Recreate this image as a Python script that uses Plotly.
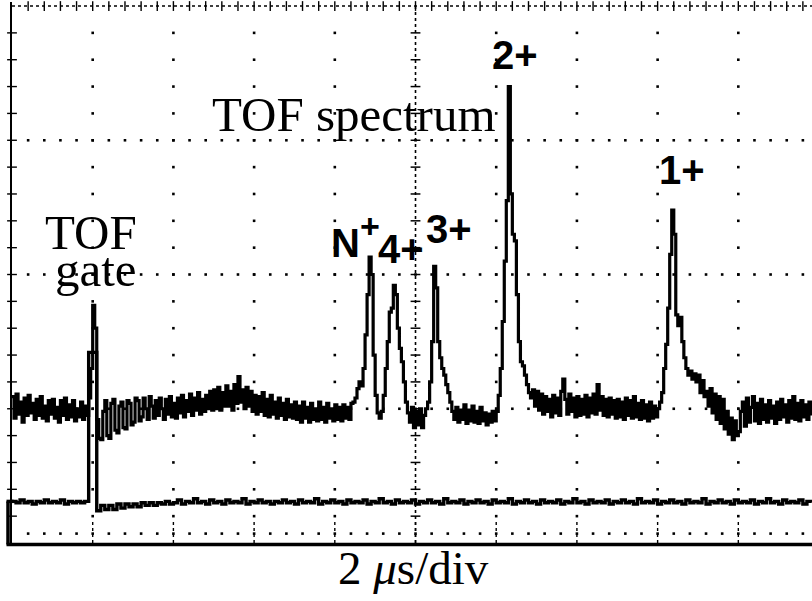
import numpy as np
import plotly.graph_objects as go

# ---------------- data ----------------
SPECTRUM_STEP_US = 0.05       # sampling interval of the spectrum trace (µs)
GATE_STEP_US = 0.1            # sampling interval of the gate trace (µs)

# upper channel: TOF spectrum (vertical position in screen divisions), 1 µs per row
spectrum_div = [
    1.09, 0.93, 1.11, 0.96, 1.05, 0.90, 1.08, 0.95, 1.10, 0.97, 1.04, 0.92, 1.07, 0.95, 1.09, 0.93, 1.02, 0.91, 1.06, 0.96,
    1.07, 0.93, 1.01, 0.90, 1.06, 0.95, 1.08, 0.92, 1.03, 0.94, 1.06, 0.91, 1.00, 0.94, 1.05, 0.92, 1.02, 0.95, 1.08, 1.30,
    1.77, 1.60, 0.92, 0.78, 0.77, 0.98, 1.06, 0.80, 0.78, 1.04, 1.07, 0.84, 0.82, 1.02, 1.05, 0.86, 0.85, 1.06, 1.04, 0.88,
    0.90, 1.08, 1.06, 0.91, 0.94, 1.08, 1.00, 0.92, 1.09, 1.02, 0.93, 1.06, 0.95, 1.08, 1.00, 0.92, 1.07, 0.96, 1.09, 0.94,
    1.04, 0.93, 1.08, 0.97, 1.10, 0.94, 1.06, 0.98, 1.11, 0.95, 1.08, 0.99, 1.12, 0.96, 1.07, 0.98, 1.10, 1.00, 1.13, 0.99,
    1.14, 1.00, 1.16, 0.99, 1.12, 1.02, 1.17, 1.02, 1.13, 0.99, 1.18, 1.04, 1.24, 1.05, 1.14, 1.00, 1.16, 1.02, 1.13, 0.98,
    1.10, 0.96, 1.09, 0.98, 1.12, 0.95, 1.07, 0.94, 1.10, 0.96, 1.05, 0.93, 1.08, 0.95, 1.04, 0.92, 1.07, 0.94, 1.03, 0.93,
    1.05, 0.92, 1.02, 0.90, 1.05, 0.93, 1.01, 0.90, 1.04, 0.92, 1.00, 0.91, 1.05, 0.92, 1.01, 0.90, 1.04, 0.93, 1.00, 0.91,
    1.03, 0.92, 1.01, 0.91, 1.03, 0.93, 1.01, 0.92, 1.04, 1.05, 1.08, 1.15, 1.20, 1.17, 1.30, 1.55, 1.85, 2.13, 2.00, 1.40,
    1.10, 0.97, 0.93, 0.98, 1.10, 1.30, 1.50, 1.72, 1.75, 1.92, 1.85, 1.60, 1.45, 1.35, 1.20, 1.05, 0.97, 0.90, 1.01, 0.86,
    0.98, 0.88, 1.00, 0.86, 0.95, 1.00, 1.05, 1.20, 1.50, 2.06, 1.90, 1.50, 1.38, 1.30, 1.25, 1.18, 1.12, 1.05, 0.98, 0.92,
    1.01, 0.90, 0.99, 0.92, 1.03, 0.89, 0.99, 0.91, 1.02, 0.90, 0.98, 0.89, 1.01, 0.91, 0.97, 0.88, 0.96, 0.90, 0.98, 0.91,
    0.98, 1.10, 1.30, 1.65, 2.10, 2.55, 3.40, 2.60, 2.30, 2.25, 1.85, 1.50, 1.35, 1.32, 1.25, 1.18, 1.12, 1.08, 1.14, 1.02,
    1.13, 0.99, 1.11, 0.96, 1.09, 0.98, 1.07, 0.94, 1.10, 0.97, 1.08, 0.95, 1.13, 1.22, 1.07, 0.96, 1.11, 0.98, 1.08, 0.94,
    1.09, 0.95, 1.07, 0.96, 1.10, 0.94, 1.08, 0.97, 1.11, 0.96, 1.18, 0.99, 1.09, 0.95, 1.07, 0.94, 1.08, 0.96, 1.06, 0.93,
    1.07, 0.94, 1.05, 0.92, 1.08, 0.95, 1.06, 0.93, 1.09, 0.94, 1.04, 0.92, 1.06, 0.93, 1.03, 0.91, 1.05, 0.93, 1.02, 0.94,
    1.00, 1.05, 1.12, 1.30, 1.48, 1.75, 2.15, 2.48, 2.30, 1.70, 1.62, 1.68, 1.50, 1.38, 1.30, 1.25, 1.28, 1.22, 1.26, 1.20,
    1.25, 1.12, 1.21, 1.09, 1.13, 1.02, 1.15, 0.97, 1.11, 0.92, 1.09, 0.89, 1.07, 0.85, 0.98, 0.81, 0.93, 0.77, 0.91, 0.80,
    0.83, 0.98, 1.05, 0.87, 1.08, 0.90, 1.01, 1.09, 0.91, 1.04, 0.89, 1.07, 0.92, 1.03, 0.90, 1.06, 0.93, 1.02, 0.89, 1.05,
    0.92, 1.07, 0.94, 1.03, 0.90, 1.06, 0.93, 1.09, 0.92, 1.04, 0.91, 1.06, 0.94, 1.03, 0.92, 1.05, 0.95,
]

# lower channel: TOF gate pulse
gate_div = [
    0.31, 0.30, 0.32, 0.30, 0.31, 0.29, 0.31, 0.30, 0.32, 0.30,
    0.31, 0.30, 0.32, 0.29, 0.31, 0.30, 0.31, 0.30, 0.31,
    1.42, 1.42,
    0.24, 0.28, 0.25, 0.28, 0.25, 0.29, 0.26, 0.29, 0.27, 0.29,
    0.27, 0.30, 0.28, 0.30, 0.28, 0.30, 0.29, 0.31, 0.29,
    0.30, 0.32, 0.29, 0.31, 0.30, 0.33, 0.30, 0.31, 0.29, 0.32,
    0.30, 0.31, 0.29, 0.32, 0.30, 0.31, 0.30, 0.33, 0.29, 0.31,
    0.30, 0.32, 0.30, 0.31, 0.29, 0.31, 0.30, 0.32, 0.30, 0.31,
    0.29, 0.32, 0.30, 0.31, 0.30, 0.33, 0.29, 0.31, 0.30, 0.32,
    0.30, 0.31, 0.29, 0.32, 0.30, 0.31, 0.30, 0.32, 0.29, 0.31,
    0.30, 0.33, 0.30, 0.31, 0.29, 0.32, 0.30, 0.31, 0.30, 0.32,
    0.29, 0.31, 0.30, 0.32, 0.30, 0.31, 0.29, 0.33, 0.30, 0.31,
    0.30, 0.32, 0.29, 0.31, 0.30, 0.32, 0.30, 0.31, 0.29, 0.32,
    0.30, 0.31, 0.30, 0.33, 0.29, 0.31, 0.30, 0.32, 0.30, 0.31,
    0.29, 0.32, 0.30, 0.31, 0.30, 0.32, 0.29, 0.31, 0.30, 0.33,
    0.30, 0.31, 0.29, 0.32, 0.30, 0.31, 0.30, 0.32, 0.29, 0.31,
    0.30, 0.32, 0.30, 0.31, 0.29, 0.33, 0.30, 0.31, 0.30, 0.32,
    0.29, 0.31, 0.30, 0.32, 0.30, 0.31, 0.29, 0.32, 0.30, 0.31,
    0.30, 0.33, 0.29, 0.31, 0.30, 0.32, 0.30, 0.31, 0.29, 0.32,
    0.30, 0.31, 0.30, 0.32, 0.29, 0.31, 0.30, 0.33, 0.30, 0.31,
    0.29, 0.32, 0.30, 0.31, 0.30, 0.32, 0.29, 0.31, 0.30,
]

spectrum_time_us = np.arange(len(spectrum_div)) * SPECTRUM_STEP_US
gate_time_us = np.arange(len(gate_div)) * GATE_STEP_US

# graticule (screen divisions; 2 µs per horizontal division)
MAJOR_X_US = [2, 4, 6, 8, 12, 14, 16, 18]
CENTER_X_US = 10
MAJOR_Y_DIV = [1, 2, 3]
TOP_Y_DIV = 4
MINOR_X_US = 0.4
MINOR_Y_DIV = 0.2

# text
label_spectrum = "TOF spectrum"
label_gate_1 = "TOF"
label_gate_2 = "gate"
label_timebase = "2 <i>μ</i>s/div"

# ---------------- layout geometry ----------------
W, H = 812, 601
ML, MR, MT, MB = 12, 0, 2, 58
X_RANGE = [0, 19.826]
Y_RANGE = [0, 4.03]
PLOT_W = W - ML - MR
PLOT_H = H - MT - MB


def px_to_x(px):
    return X_RANGE[0] + (px - ML) / PLOT_W * (X_RANGE[1] - X_RANGE[0])


def py_to_y(py):
    return Y_RANGE[1] - (py - MT) / PLOT_H * (Y_RANGE[1] - Y_RANGE[0])


def py_to_paper(py):
    return (H - MB - py) / PLOT_H


fig = go.Figure()

# ---- graticule dots ----
minor_y = np.round(np.arange(MINOR_Y_DIV, TOP_Y_DIV, MINOR_Y_DIV), 2)
minor_x = np.round(np.arange(MINOR_X_US, X_RANGE[1], MINOR_X_US), 2)

gx, gy = [], []
for xv in MAJOR_X_US:
    gx += [xv] * len(minor_y)
    gy += list(minor_y)
for yv in MAJOR_Y_DIV:
    gx += list(minor_x)
    gy += [yv] * len(minor_x)
# bottom dotted row inside the lower box
gx += list(minor_x)
gy += [0.07] * len(minor_x)
fig.add_trace(go.Scatter(x=gx, y=gy, mode="markers",
                         marker=dict(symbol="square", size=2.6, color="black"),
                         hoverinfo="skip", showlegend=False, cliponaxis=False))

# centre vertical axis: dense dotted with cross ticks
fig.add_trace(go.Scatter(x=[CENTER_X_US, CENTER_X_US], y=[0, TOP_Y_DIV], mode="lines",
                         line=dict(color="black", width=1.6, dash="dot"),
                         hoverinfo="skip", showlegend=False))
fig.add_trace(go.Scatter(x=[CENTER_X_US] * len(minor_y), y=minor_y, mode="markers",
                         marker=dict(symbol="line-ew", size=7,
                                     line=dict(width=1.5, color="black")),
                         hoverinfo="skip", showlegend=False))
# short dotted ticks at major columns near the bottom
bx, by = [], []
for xv in MAJOR_X_US + [CENTER_X_US]:
    bx += [xv, xv, None]
    by += [0.0, 0.17, None]
fig.add_trace(go.Scatter(x=bx, y=by, mode="lines",
                         line=dict(color="black", width=1.4, dash="dot"),
                         hoverinfo="skip", showlegend=False))

# top border: dense dotted line with tick marks
fig.add_trace(go.Scatter(x=[0, X_RANGE[1]], y=[TOP_Y_DIV, TOP_Y_DIV], mode="lines",
                         line=dict(color="black", width=1.6, dash="dot"),
                         hoverinfo="skip", showlegend=False))
fig.add_trace(go.Scatter(x=minor_x, y=[TOP_Y_DIV] * len(minor_x), mode="markers",
                         marker=dict(symbol="line-ns", size=7,
                                     line=dict(width=1.4, color="black")),
                         hoverinfo="skip", showlegend=False, cliponaxis=False))
# left border ticks
fig.add_trace(go.Scatter(x=[0] * len(minor_y), y=minor_y, mode="markers",
                         marker=dict(symbol="line-ew", size=7,
                                     line=dict(width=1.4, color="black")),
                         hoverinfo="skip", showlegend=False, cliponaxis=False))

# ---- traces ----
fig.add_trace(go.Scatter(x=gate_time_us, y=gate_div, mode="lines", line_shape="hv",
                         line=dict(color="black", width=3.4),
                         hoverinfo="skip", showlegend=False))
fig.add_trace(go.Scatter(x=spectrum_time_us, y=spectrum_div, mode="lines", line_shape="hv",
                         line=dict(color="black", width=3.2),
                         hoverinfo="skip", showlegend=False))

# ---- frame of the lower box ----
box_top = gate_div[0] / (Y_RANGE[1] - Y_RANGE[0])
fig.add_shape(type="line", xref="paper", yref="paper", x0=-4 / PLOT_W, x1=-4 / PLOT_W,
              y0=-1.5 / PLOT_H, y1=box_top, line=dict(color="black", width=3.5))
fig.add_shape(type="line", xref="paper", yref="paper", x0=-5.5 / PLOT_W, x1=0.002,
              y0=box_top, y1=box_top, line=dict(color="black", width=3.4))
fig.add_shape(type="line", xref="paper", yref="paper", x0=-5.5 / PLOT_W, x1=1,
              y0=-1.5 / PLOT_H, y1=-1.5 / PLOT_H, line=dict(color="black", width=3.5))

# ---- text ----
serif = "Liberation Serif, Times New Roman, serif"
sans_b = "Liberation Sans, Arial, sans-serif"


def ann(text, px, py, size, family, bold=False):
    t = f"<b>{text}</b>" if bold else text
    fig.add_annotation(x=px_to_x(px), y=py_to_y(py), xref="x", yref="y", text=t,
                       showarrow=False, xanchor="center", yanchor="middle",
                       font=dict(family=family, size=size, color="black"))


ann(label_spectrum, 354, 114, 49, serif)
ann(label_gate_1, 91, 232, 49, serif)
ann(label_gate_2, 96, 269, 49, serif)

fig.add_annotation(x=px_to_x(413), y=py_to_paper(568), xref="x", yref="paper",
                   text=label_timebase, showarrow=False, xanchor="center",
                   yanchor="middle",
                   font=dict(family=serif, size=47, color="black"))

ann("N", 345, 243, 40, sans_b, bold=True)
ann("+", 370, 226, 34, sans_b, bold=True)
ann("4+", 401, 249, 40, sans_b, bold=True)
ann("3+", 449, 229, 40, sans_b, bold=True)
ann("2+", 515, 55, 40, sans_b, bold=True)
ann("1+", 682, 170, 40, sans_b, bold=True)

fig.update_xaxes(range=X_RANGE, showgrid=False, zeroline=False, showticklabels=False,
                 ticks="", showline=True, linecolor="black", linewidth=3)
fig.update_yaxes(range=Y_RANGE, showgrid=False, zeroline=False, showticklabels=False,
                 ticks="", showline=True, linecolor="black", linewidth=1.6)
fig.update_layout(width=W, height=H, margin=dict(l=ML, r=MR, t=MT, b=MB),
                  paper_bgcolor="white", plot_bgcolor="white", showlegend=False)

fig.write_html("out.html", config={"displayModeBar": False},
               post_script="document.body.style.margin='0';"
                           "document.body.style.overflow='hidden';")
